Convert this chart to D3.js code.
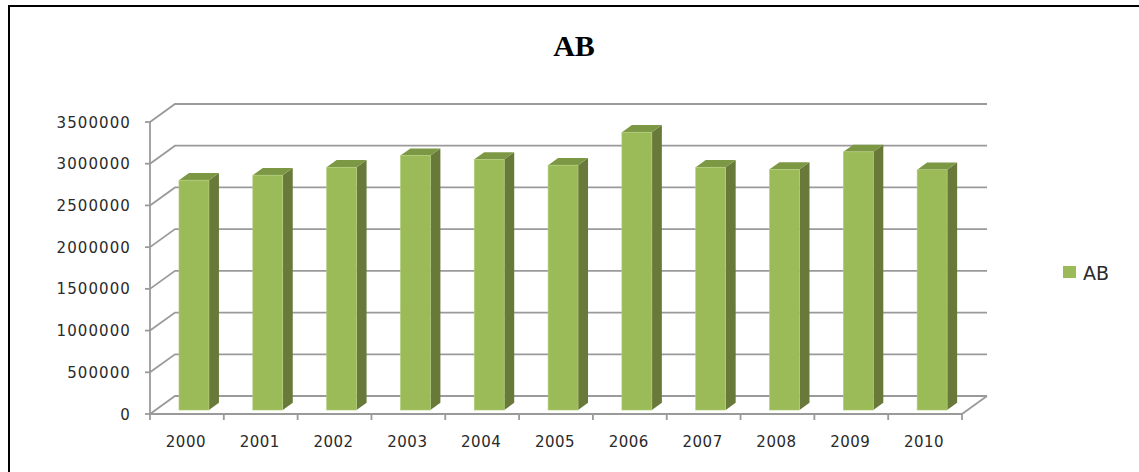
<html>
<head>
  <script src="https://d3js.org/d3.v7.min.js"></script>
  <style>
    body { margin: 0; background: #fff; }
  </style>
</head>
<body>
  <svg width="1139" height="472"></svg>
  <script>

  var years = ["2000", "2001", "2002", "2003", "2004", "2005", "2006", "2007", "2008", "2009", "2010"];
  var values = [2755000, 2815000, 2910000, 3050000, 3005000, 2935000, 3330000, 2910000, 2885000, 3095000, 2880000];
  var yTicks = [0, 500000, 1000000, 1500000, 2000000, 2500000, 3000000, 3500000];
  var seriesName = "AB";
  var chartTitle = "AB";

  var svg = d3.select("svg"),
    width = +svg.attr("width"),
    height = +svg.attr("height");

  // outer frame (left + top edges only visible)
  svg.append("path")
    .attr("d", "M9,472 V6 H1139")
    .attr("fill", "none")
    .attr("stroke", "#000")
    .attr("stroke-width", 2);

  // depth of the 3d box
  var DX = 25, DY = 18;
  var barFront = 0.22, barDepth = 0.4;

  var X = d3.scaleBand().domain(years).range([150, 962]);
  var Y = d3.scaleLinear().domain([0, 3500000]).range([414, 122]);

  var grid = svg.append("g")
    .attr("fill", "none")
    .attr("stroke", "#9a9a9a")
    .attr("stroke-width", 1.8);

  // back wall and left wall lines
  yTicks.forEach(function(t) {
    var y = Y(t);
    grid.append("path")
      .attr("d", "M150," + y + " L" + (150 + DX) + "," + (y - DY) + " H" + (962 + DX));
  });
  // floor right edge
  grid.append("path")
    .attr("d", "M962," + Y(0) + " L" + (962 + DX) + "," + (Y(0) - DY));
  // front vertical axis + ticks
  grid.append("path").attr("d", "M150," + Y(0) + " V" + Y(3500000));
  yTicks.forEach(function(t) {
    grid.append("path").attr("d", "M145," + Y(t) + " H150");
  });
  // front x axis + ticks
  grid.append("path").attr("d", "M150," + Y(0) + " H962");
  years.concat(["end"]).forEach(function(d, i) {
    var x = 150 + i * X.bandwidth();
    grid.append("path").attr("d", "M" + x + "," + Y(0) + " V" + (Y(0) + 6));
  });

  // bars
  var bw = X.bandwidth() * 0.406;
  var off = X.bandwidth() * 0.318;
  var fdx = DX * barFront, fdy = DY * barFront;
  var ddx = DX * barDepth, ddy = DY * barDepth;

  var bars = svg.append("g")
    .selectAll("g")
    .data(years)
    .enter()
    .append("g");

  bars.each(function(d, i) {
    var g = d3.select(this);
    var x0 = X(d) + off + fdx;
    var x1 = x0 + bw;
    var yb = Y(0) - fdy;
    var yt = Y(values[i]) - fdy;
    // side
    g.append("path")
      .attr("d", "M" + x1 + "," + yt + " L" + (x1 + ddx) + "," + (yt - ddy) +
        " L" + (x1 + ddx) + "," + (yb - ddy) + " L" + x1 + "," + yb + "Z")
      .attr("fill", "#68793a");
    // top
    g.append("path")
      .attr("d", "M" + x0 + "," + yt + " L" + x1 + "," + yt +
        " L" + (x1 + ddx) + "," + (yt - ddy) + " L" + (x0 + ddx) + "," + (yt - ddy) + "Z")
      .attr("fill", "#7c9844");
    // front
    g.append("rect")
      .attr("x", x0)
      .attr("y", yt)
      .attr("width", bw)
      .attr("height", yb - yt)
      .attr("fill", "#9bbb59")
      .attr("stroke", "#b3cf7d")
      .attr("stroke-width", 0.6);
  });

  // y labels
  svg.append("g")
    .selectAll("text")
    .data(yTicks)
    .enter()
    .append("text")
    .attr("x", 131)
    .attr("y", function(d) { return Y(d) + 5.5; })
    .attr("text-anchor", "end")
    .attr("font-family", "DejaVu Sans")
    .attr("font-size", 15)
    .attr("letter-spacing", 1.1)
    .attr("fill", "#2a2a2a")
    .text(function(d) { return d; });

  // x labels
  svg.append("g")
    .selectAll("text")
    .data(years)
    .enter()
    .append("text")
    .attr("x", function(d) { return X(d) + X.bandwidth() / 2 - 1; })
    .attr("y", 447)
    .attr("text-anchor", "middle")
    .attr("font-family", "DejaVu Sans")
    .attr("font-size", 15)
    .attr("letter-spacing", 0.5)
    .attr("fill", "#2a2a2a")
    .text(function(d) { return d; });

  // title
  svg.append("text")
    .attr("x", 574)
    .attr("y", 56)
    .attr("text-anchor", "middle")
    .attr("font-family", "Liberation Serif")
    .attr("font-weight", "bold")
    .attr("font-size", 30)
    .attr("fill", "#000")
    .text(chartTitle);

  // legend
  svg.append("rect")
    .attr("x", 1063)
    .attr("y", 266)
    .attr("width", 13)
    .attr("height", 12)
    .attr("fill", "#9bbb59");
  svg.append("text")
    .attr("x", 1083)
    .attr("y", 279.5)
    .attr("font-family", "DejaVu Sans")
    .attr("font-size", 19)
    .attr("fill", "#2a2a2a")
    .text(seriesName);

  </script>
</body>
</html>
